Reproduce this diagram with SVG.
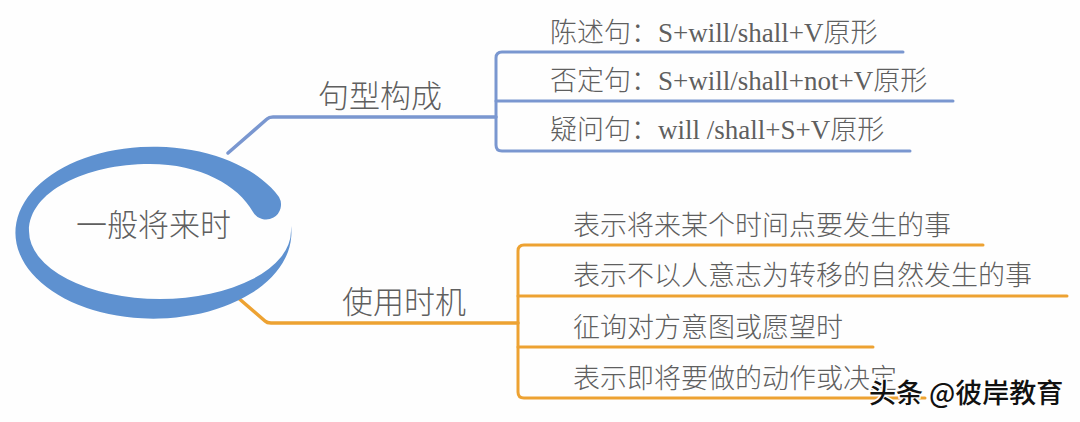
<svg xmlns="http://www.w3.org/2000/svg" width="1080" height="422" viewBox="0 0 1080 422">
<style>
.t{font-family:"Liberation Serif","Noto Sans CJK SC",serif;fill:#5f5f5f;font-weight:300}
.title{font-size:31px}
.sub{font-size:27px}
.blue{fill:none;stroke:#7a97d0;stroke-linecap:round;stroke-linejoin:round}
.orange{fill:none;stroke:#eda232;stroke-linecap:round;stroke-linejoin:round}
.main{stroke-width:3.5}
.br{stroke-width:3}
.wm{font-family:"Noto Sans CJK SC",sans-serif;font-size:27px;font-weight:500;fill:#111;stroke:#fff;stroke-width:3;paint-order:stroke}
</style>
<rect width="1080" height="422" fill="#fefefe"/>
<g id="connectors">
  <path class="blue main" d="M228 153 L267 119 Q269 117 273 117 L496 117"/>
  <path class="blue br" d="M903 52 L502 52 Q496 52 496 58 L496 145 Q496 151 502 151 L910 151"/>
  <path class="blue br" d="M496 101 L953 101"/>
  <path class="orange main" d="M236 296 L265 321 Q267 323 271 323 L518 323"/>
  <path class="orange br" d="M983 245 L524 245 Q518 245 518 251 L518 392 Q518 398 524 398 L925 398"/>
  <path class="orange br" d="M518 296 L1067 296"/>
  <path class="orange br" d="M518 347 L873 347"/>
</g>
<g id="center">
  <path fill="#5e91d0" d="M279 197 A138 86 0 1 0 291 226 L291 231 A131 68 0 0 1 29 231 C29 192 85 164 150 164 C200 164 238 185 253 212 A14 14 0 0 0 279 197 Z"/>
  <text class="t title" x="76" y="236">一般将来时</text>
</g>
<g id="branch-structure">
  <text class="t title" x="318" y="107">句型构成</text>
</g>
<g id="structure-1"><text class="t sub" x="550" y="42">陈述句：S+will/shall+V原形</text></g>
<g id="structure-2"><text class="t sub" x="550" y="90">否定句：S+will/shall+not+V原形</text></g>
<g id="structure-3"><text class="t sub" x="550" y="139">疑问句：will /shall+S+V原形</text></g>
<g id="branch-usage">
  <text class="t title" x="342" y="313">使用时机</text>
</g>
<g id="usage-1"><text class="t sub" x="573" y="235">表示将来某个时间点要发生的事</text></g>
<g id="usage-2"><text class="t sub" x="573" y="285">表示不以人意志为转移的自然发生的事</text></g>
<g id="usage-3"><text class="t sub" x="573" y="337">征询对方意图或愿望时</text></g>
<g id="usage-4"><text class="t sub" x="573" y="388">表示即将要做的动作或决定</text></g>
<text class="wm" x="869" y="403">头条 @彼岸教育</text>
</svg>
